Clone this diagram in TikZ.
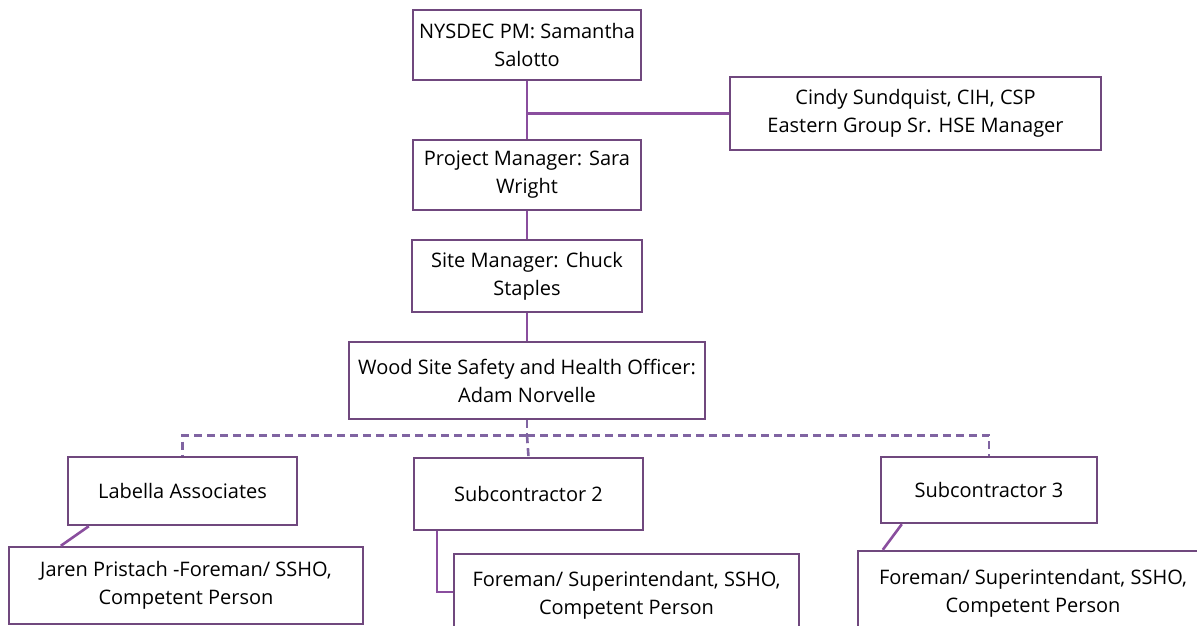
\documentclass[tikz,border=0pt]{standalone}
\usepackage{fontspec}
\setmainfont{Open Sans}
\usetikzlibrary{calc}
\definecolor{boxline}{RGB}{112,72,126}
\definecolor{solidline}{RGB}{138,78,158}
\definecolor{dashline}{RGB}{128,100,162}
\tikzset{
  box/.style={draw=boxline, line width=2.4pt, fill=white, align=center, inner sep=0pt,
    font=\fontsize{20}{28}\selectfont},
  link/.style={draw=solidline, line width=2.6pt},
  dlink/.style={draw=dashline, line width=2.6pt, dash pattern=on 8pt off 5pt},
}
\begin{document}
\begin{tikzpicture}[x=1pt,y=-1pt]
\useasboundingbox (0,0) rectangle (1197,626);
\clip (0,0) rectangle (1197,626);
\node[box, minimum width=228pt, minimum height=70pt] (nys) at (527,45) {NYSDEC PM: Samantha\\Salotto};
\node[box, minimum width=371pt, minimum height=73pt] (cindy) at (915.5,113.5) {Cindy Sundquist, CIH, CSP\\Eastern Group Sr. HSE Manager};
\node[box, minimum width=228pt, minimum height=70pt] (pm) at (527,175) {Project Manager: Sara\\Wright};
\node[box, minimum width=230pt, minimum height=72pt] (site) at (527,276) {Site Manager: Chuck\\Staples};
\node[box, minimum width=356pt, minimum height=77pt] (wood) at (527,380.5) {Wood Site Safety and Health Officer:\\Adam Norvelle};
\node[box, minimum width=229pt, minimum height=68pt] (lab) at (182.5,491) {Labella Associates};
\node[box, minimum width=229pt, minimum height=72pt] (sub2) at (528.5,494) {Subcontractor 2};
\node[box, minimum width=216pt, minimum height=66pt] (sub3) at (989,490) {Subcontractor 3};
\node[box, minimum width=354pt, minimum height=77pt] (jaren) at (186,585.5) {Jaren Pristach -Foreman/ SSHO,\\Competent Person};
\node[box, minimum width=345pt, minimum height=82pt] (f2) at (626.5,595) {Foreman/ Superintendant, SSHO,\\Competent Person};
\node[box, minimum width=350pt, minimum height=84pt] (f3) at (1033,593) {Foreman/ Superintendant, SSHO,\\Competent Person};
% solid connectors
\coordinate (j1) at (nys.south |- cindy.west);
\draw[link] (nys.south) -- (pm.north);
\draw[link] (j1) -- (cindy.west);
\draw[link] (pm.south) -- (site.north);
\draw[link] (site.south) -- (wood.north);
% dashed
\coordinate (dj) at ($(wood.south)+(0,15)$);
\draw[dlink] (wood.south) -- (dj);
\draw[dlink] (dj) -| (lab.north);
\draw[dlink] (dj) -| (sub3.north);
\draw[dlink] (dj) -- (sub2.north);
% children
\draw[link] ($(lab.south west)+(22,0)$) -- ($(jaren.north west)+(53,0)$);
\coordinate (s2a) at ($(sub2.south west)+(24,0)$);
\draw[link] (s2a) |- ($(f2.west)+(0,-3)$);
\draw[link] ($(sub3.south west)+(22,0)$) -- ($(f3.north west)+(26,0)$);
\end{tikzpicture}
\end{document}
